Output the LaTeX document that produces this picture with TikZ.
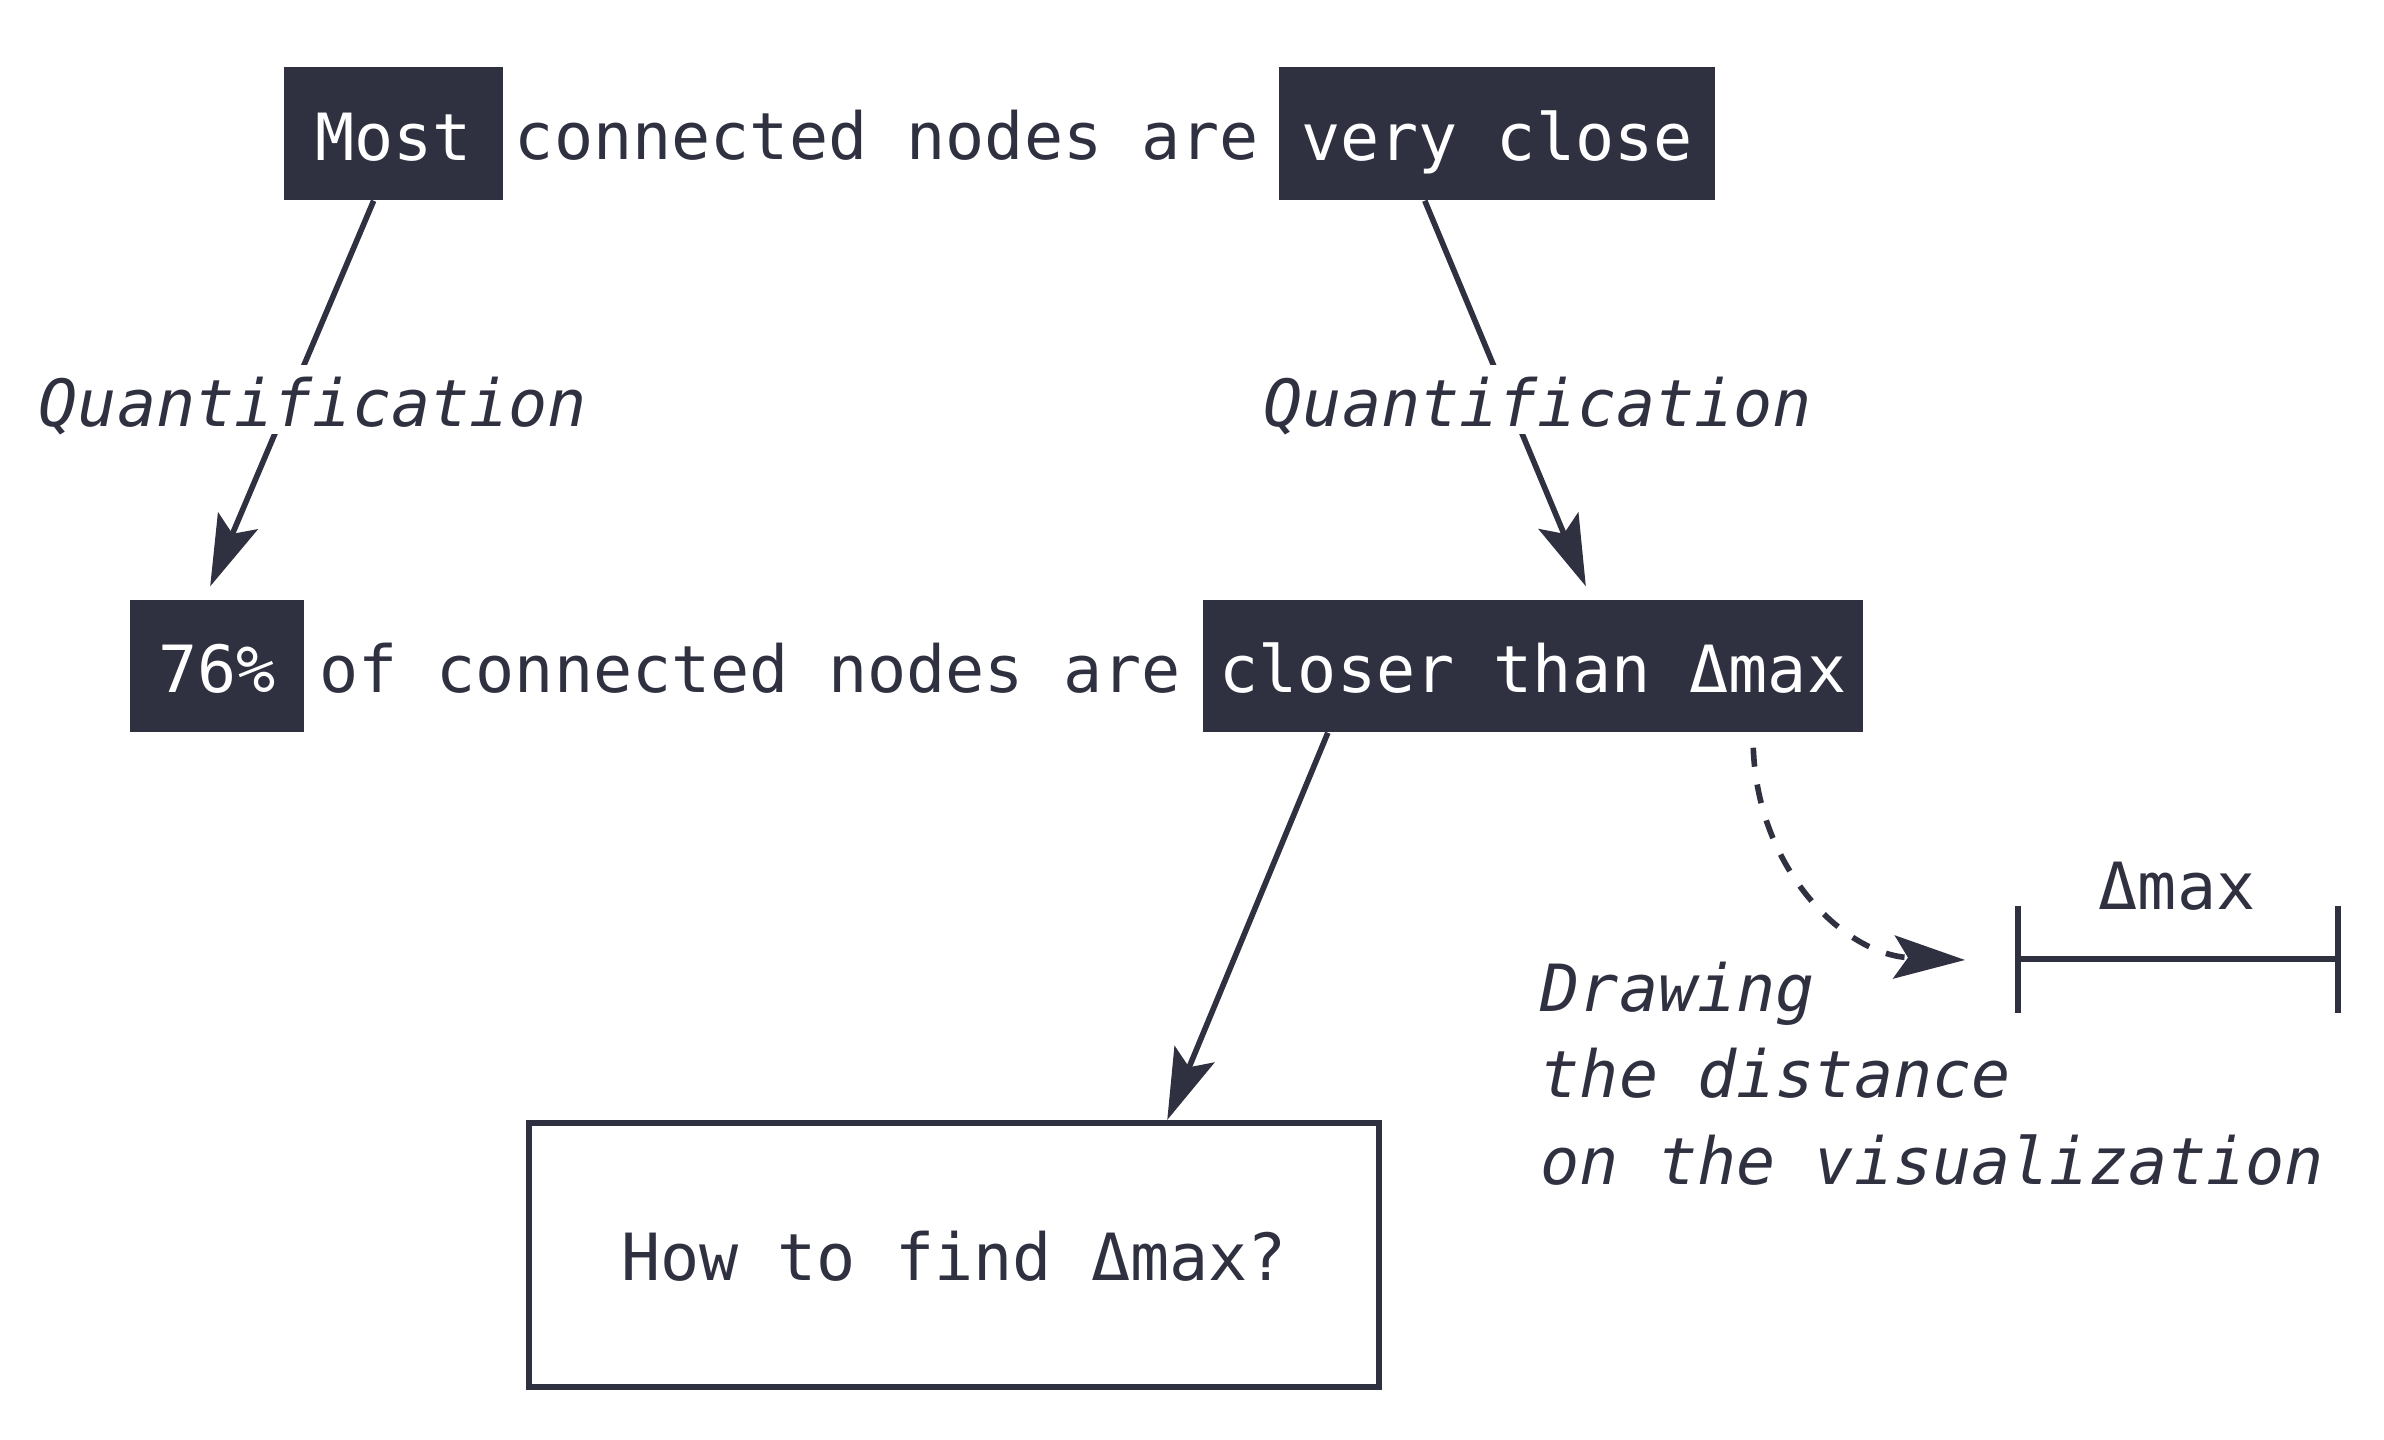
\documentclass[tikz,border=0pt]{standalone}
\usepackage{fontspec}
\setmonofont{DejaVu Sans Mono}
\usetikzlibrary{arrows.meta,calc}
\definecolor{ink}{HTML}{2F3140}
\begin{document}
\begin{tikzpicture}[x=0.01cm,y=-0.01cm,
  every node/.style={font=\ttfamily\fontsize{18.5}{24.5}\selectfont, text=ink, inner sep=0pt},
  darkbox/.style={fill=ink, text=white, minimum height=1.33cm, text height=0.53cm, text depth=0cm},
  plain/.style={anchor=base},
  itx/.style={font=\ttfamily\itshape\fontsize{18.5}{24.47}\selectfont},
  lbl/.style={anchor=base, fill=white, itx, inner xsep=2pt, inner ysep=2pt, text height=0.55cm, text depth=0cm},
  arr/.style={draw=ink, line width=1.6pt, -{Stealth[length=0.71cm,width=0.43cm,inset=0.14cm]}},
  barline/.style={draw=ink, line width=1.6pt},
]
\useasboundingbox (0,0) rectangle (2384,1440);

% line 1
\node[darkbox, minimum width=2.19cm] (most) at (393.5,133.5) {Most};
\node[plain] (t1) at (887,160) {connected nodes are};
\node[darkbox, minimum width=4.36cm] (close) at (1497,133.5) {very close};

% line 2
\node[darkbox, minimum width=1.74cm, minimum height=1.32cm] (pct) at (217,666) {76\%};
\node[plain] (t2) at (750,693) {of connected nodes are};
\node[darkbox, minimum width=6.60cm, minimum height=1.32cm] (closer) at (1533,666) {closer than Δmax};

% question box
\node[draw=ink, line width=1.7pt, minimum width=8.50cm, minimum height=2.64cm, text height=0.51cm, text depth=0cm] (how) at (954,1255) {How to find Δmax?};

% arrows
\draw[arr, shorten >=0.14cm] ($(most.south west)!0.41!(most.south east)$) -- ($(pct.north west)!0.43!(pct.north east)$);
\draw[arr, shorten >=0.14cm] ($(close.south west)!0.335!(close.south east)$) -- ($(closer.north west)!0.588!(closer.north east)$);
\draw[arr] ($(closer.south west)!0.19!(closer.south east)$) -- ($(how.north west)!0.749!(how.north east)$);

% labels
\node[lbl] (q1) at (313,427) {Quantification};
\node[lbl] (q2) at (1538,427) {Quantification};

% distance bar
\coordinate (barL) at (2018,959);
\coordinate (barR) at (2338,959);
\draw[barline] (barL) -- (barR);
\draw[barline] ($(barL)+(0,-53)$) -- ($(barL)+(0,54)$);
\draw[barline] ($(barR)+(0,-53)$) -- ($(barR)+(0,54)$);
\node[plain] (dlab) at (2177,910) {Δmax};

% dashed arrow
\coordinate (ds) at ($(closer.south west)!0.832!(closer.south east)$);
\coordinate (dtip) at (1965,960);
\draw[arr, dash pattern=on 0.19cm off 0.18cm, shorten <=0.15cm] (ds) .. controls ($(ds)+(5,138)$) and ($(dtip)+(-120,-5)$) .. (dtip);

\node[anchor=base west, align=left, itx] (drawtxt) at (1540,1184) {Drawing\\the distance\\on the visualization};
\end{tikzpicture}
\end{document}
